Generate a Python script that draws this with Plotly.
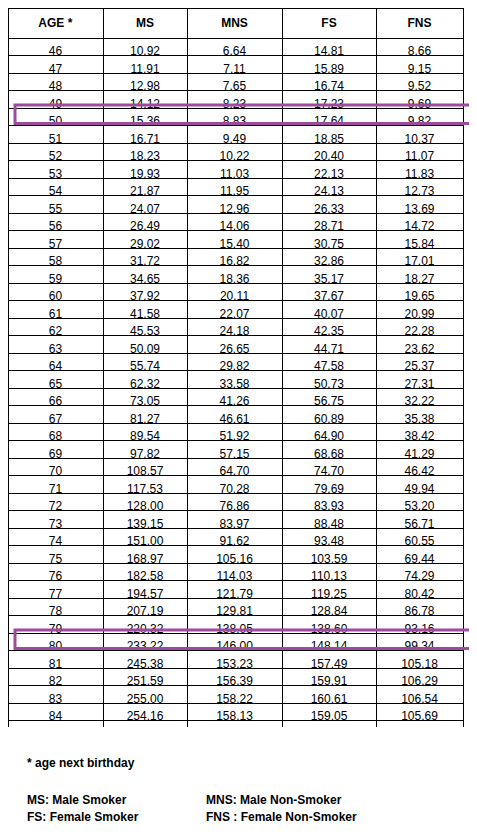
import plotly.graph_objects as go

ages = list(range(46, 86))
ms = [10.92, 11.91, 12.98, 14.12, 15.36, 16.71, 18.23, 19.93, 21.87, 24.07,
      26.49, 29.02, 31.72, 34.65, 37.92, 41.58, 45.53, 50.09, 55.74, 62.32,
      73.05, 81.27, 89.54, 97.82, 108.57, 117.53, 128.00, 139.15, 151.00, 168.97,
      182.58, 194.57, 207.19, 220.32, 233.22, 245.38, 251.59, 255.00, 254.16, 246.73]
mns = [6.64, 7.11, 7.65, 8.23, 8.83, 9.49, 10.22, 11.03, 11.95, 12.96,
       14.06, 15.40, 16.82, 18.36, 20.11, 22.07, 24.18, 26.65, 29.82, 33.58,
       41.26, 46.61, 51.92, 57.15, 64.70, 70.28, 76.86, 83.97, 91.62, 105.16,
       114.03, 121.79, 129.81, 138.05, 146.00, 153.23, 156.39, 158.22, 158.13, 155.12]
fs = [14.81, 15.89, 16.74, 17.23, 17.64, 18.85, 20.40, 22.13, 24.13, 26.33,
      28.71, 30.75, 32.86, 35.17, 37.67, 40.07, 42.35, 44.71, 47.58, 50.73,
      56.75, 60.89, 64.90, 68.68, 74.70, 79.69, 83.93, 88.48, 93.48, 103.59,
      110.13, 119.25, 128.84, 138.60, 148.14, 157.49, 159.91, 160.61, 159.05, 154.29]
fns = [8.66, 9.15, 9.52, 9.69, 9.82, 10.37, 11.07, 11.83, 12.73, 13.69,
       14.72, 15.84, 17.01, 18.27, 19.65, 20.99, 22.28, 23.62, 25.37, 27.31,
       32.22, 35.38, 38.42, 41.29, 46.42, 49.94, 53.20, 56.71, 60.55, 69.44,
       74.29, 80.42, 86.78, 93.16, 99.34, 105.18, 106.29, 106.54, 105.69, 103.24]
headers = ["AGE *", "MS", "MNS", "FS", "FNS"]
highlight_ages = [50, 80]

W, H = 477, 835
left, right, top = 8, 463, 9
head_h, row_h = 17, 17.5
bottom = top + head_h + row_h * len(ages) + 2
font = dict(family="Liberation Sans, Arial", size=12, color="black")

fig = go.Figure(go.Table(
    # plotly offsets the table by ~8px/9px inside its domain, so shift it back
    domain=dict(x=[(left - 8) / W, (right - 8) / W], y=[1 - (bottom - 9) / H, 1.0]),
    columnwidth=[95, 84, 95, 94, 87],
    header=dict(values=["<b>%s</b>" % h for h in headers], height=head_h,
                align="center", fill_color="white",
                line=dict(color="black", width=1), font=font),
    cells=dict(values=[ages, ["%.2f" % v for v in ms], ["%.2f" % v for v in mns],
                       ["%.2f" % v for v in fs], ["%.2f" % v for v in fns]],
               height=row_h, align="center", fill_color="white",
               line=dict(color="black", width=1), font=font),
))

for a in highlight_ages:
    i = ages.index(a)
    y0 = top + head_h + row_h * i
    fig.add_shape(type="rect", xref="paper", yref="paper",
                  x0=7 / W, x1=465 / W, y0=1 - (y0 + row_h + 2) / H, y1=1 - (y0 + 1) / H,
                  line=dict(color="#9e4a9f", width=3))

notes = [("* age next birthday", 17, 755), ("MS: Male Smoker", 17, 792),
         ("FS: Female Smoker", 17, 809), ("MNS: Male Non-Smoker", 196, 792),
         ("FNS : Female Non-Smoker", 196, 809)]
for t, x, y in notes:
    fig.add_annotation(text="<b>%s</b>" % t, x=x / W, y=1 - y / H, xref="paper", yref="paper",
                       xanchor="left", yanchor="middle", showarrow=False, font=font)

fig.update_layout(width=W, height=H, margin=dict(l=0, r=0, t=0, b=0),
                  paper_bgcolor="white", plot_bgcolor="white")
fig.write_html("out.html")
